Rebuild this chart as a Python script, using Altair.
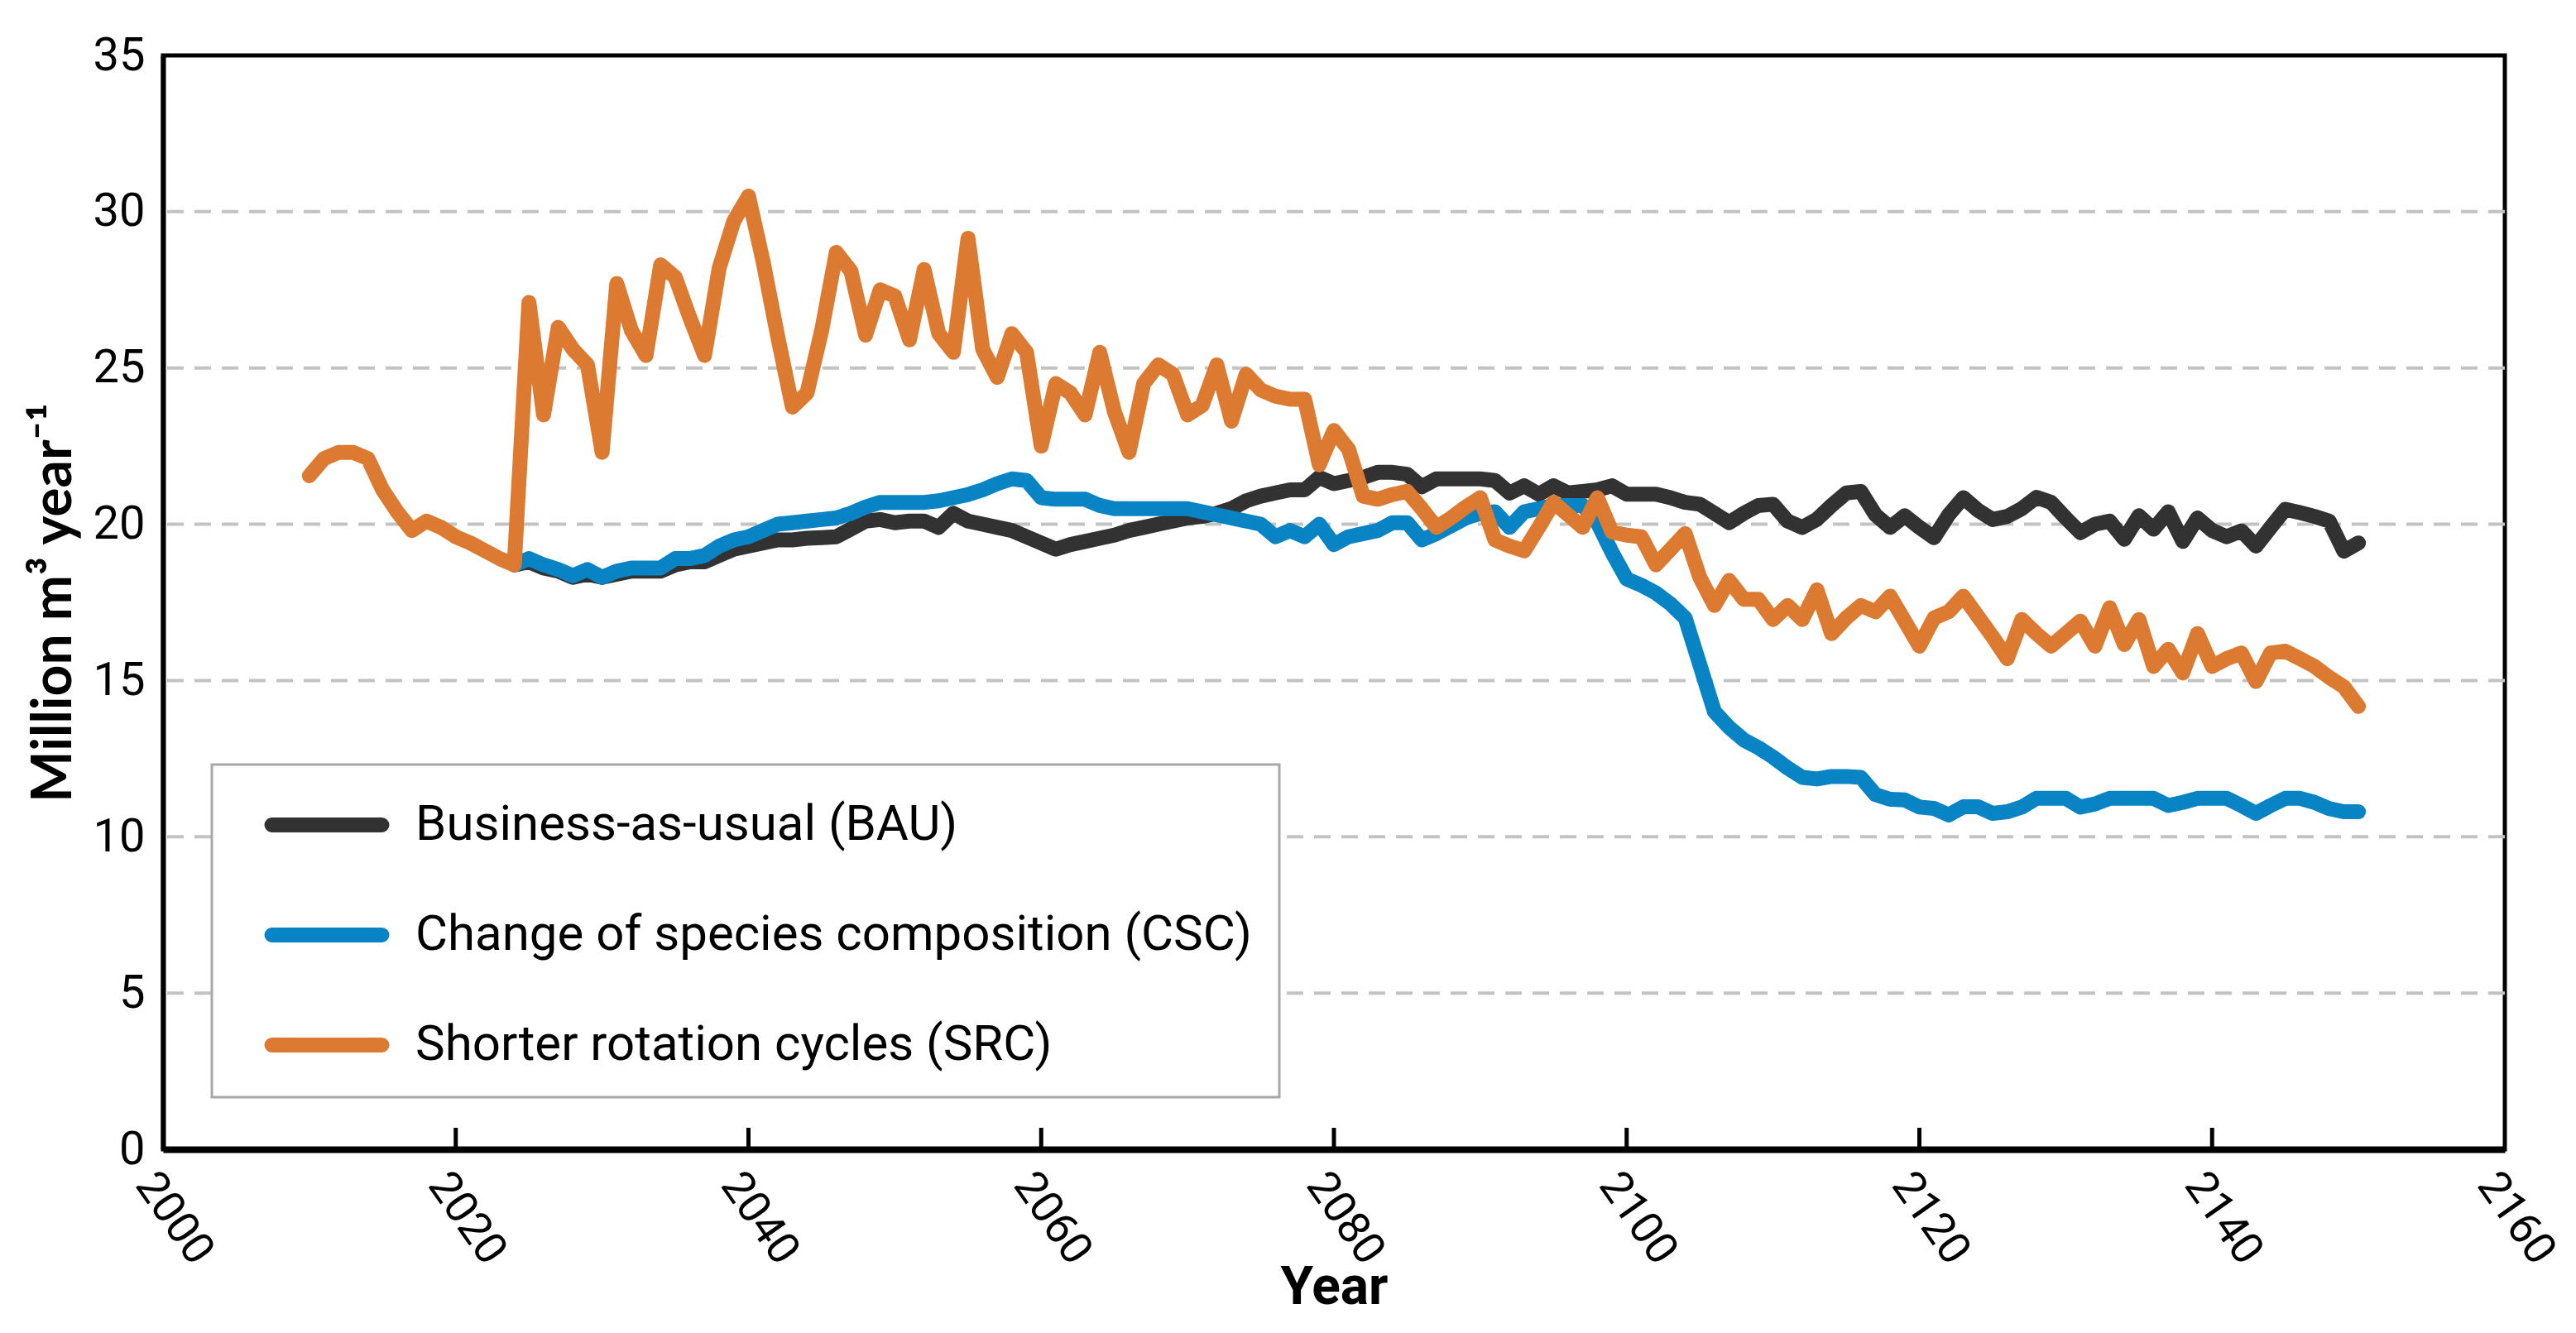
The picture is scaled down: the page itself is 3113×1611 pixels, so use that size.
import altair as alt
import pandas as pd

# ---------------- data ----------------
series_names = [
    "Business-as-usual (BAU)",
    "Change of species composition (CSC)",
    "Shorter rotation cycles (SRC)",
]
series_colors = ["#323232", "#0884C4", "#DB7A30"]

src_years = list(range(2010, 2151))
src_values = [
    21.55, 22.1, 22.3, 22.3, 22.1, 21.1, 20.4, 19.8, 20.1, 19.9,      # 2010-2019
    19.6, 19.4, 19.15, 18.9, 18.7, 27.1, 23.5, 26.3, 25.6, 25.1,      # 2020-2029
    22.3, 27.7, 26.2, 25.4, 28.3, 27.9, 26.6, 25.4, 28.2, 29.7,       # 2030-2039
    30.5, 28.4, 26.0, 23.75, 24.2, 26.2, 28.7, 28.1, 26.05, 27.5,     # 2040-2049
    27.3, 25.9, 28.15, 26.1, 25.5, 29.15, 25.6, 24.7, 26.1, 25.5,     # 2050-2059
    22.5, 24.5, 24.2, 23.5, 25.5, 23.6, 22.3, 24.5, 25.1, 24.8,       # 2060-2069
    23.5, 23.8, 25.1, 23.3, 24.8, 24.3, 24.1, 24.0, 24.0, 21.9,       # 2070-2079
    23.0, 22.4, 20.9, 20.8, 20.95, 21.05, 20.5, 19.9, 20.2, 20.55,    # 2080-2089
    20.85, 19.5, 19.3, 19.15, 19.9, 20.7, 20.3, 19.9, 20.85, 19.75,   # 2090-2099
    19.65, 19.6, 18.7, 19.2, 19.7, 18.3, 17.4, 18.2, 17.6, 17.6,      # 2100-2109
    16.95, 17.4, 16.95, 17.9, 16.5, 17.0, 17.4, 17.2, 17.7, 16.9,     # 2110-2119
    16.1, 17.0, 17.2, 17.7, 17.05, 16.4, 15.7, 16.95, 16.5, 16.1,     # 2120-2129
    16.5, 16.9, 16.1, 17.33, 16.15, 16.95, 15.45, 16.0, 15.24, 16.5,  # 2130-2139
    15.45, 15.7, 15.88, 14.97, 15.88, 15.94, 15.7, 15.45, 15.1, 14.8, # 2140-2149
    14.17,                                                            # 2150
]

bau_years = list(range(2024, 2151))
bau_values = [
    18.7, 18.8, 18.6, 18.5, 18.3, 18.4,                               # 2024-2029
    18.3, 18.4, 18.5, 18.5, 18.5, 18.7, 18.8, 18.8, 19.0, 19.2,       # 2030-2039
    19.3, 19.4, 19.5, 19.5, 19.55, 19.57, 19.6, 19.85, 20.1, 20.15,   # 2040-2049
    20.05, 20.1, 20.1, 19.9, 20.35, 20.1, 20.0, 19.9, 19.8, 19.6,     # 2050-2059
    19.4, 19.2, 19.35, 19.45, 19.55, 19.65, 19.8, 19.9, 20.0, 20.1,   # 2060-2069
    20.2, 20.25, 20.35, 20.5, 20.75, 20.9, 21.0, 21.1, 21.1, 21.5,    # 2070-2079
    21.3, 21.4, 21.5, 21.66, 21.66, 21.6, 21.2, 21.45, 21.45, 21.45,  # 2080-2089
    21.45, 21.4, 21.0, 21.23, 20.96, 21.23, 21.0, 21.05, 21.1, 21.23, # 2090-2099
    20.96, 20.96, 20.96, 20.85, 20.7, 20.64, 20.35, 20.05, 20.35, 20.6, # 2100-2109
    20.64, 20.1, 19.9, 20.16, 20.6, 21.0, 21.05, 20.3, 19.9, 20.27,   # 2110-2119
    19.9, 19.57, 20.3, 20.85, 20.45, 20.15, 20.25, 20.5, 20.86, 20.7, # 2120-2129
    20.2, 19.73, 20.0, 20.1, 19.52, 20.27, 19.84, 20.4, 19.45, 20.2,  # 2130-2139
    19.8, 19.6, 19.79, 19.3, 19.9, 20.48, 20.37, 20.25, 20.1, 19.14,  # 2140-2149
    19.4,                                                             # 2150
]

csc_years = list(range(2024, 2151))
csc_values = [
    18.7, 18.9, 18.7, 18.55, 18.35, 18.55,                            # 2024-2029
    18.3, 18.5, 18.6, 18.6, 18.6, 18.9, 18.9, 19.0, 19.3, 19.5,       # 2030-2039
    19.6, 19.8, 20.0, 20.05, 20.1, 20.15, 20.2, 20.35, 20.55, 20.7,   # 2040-2049
    20.7, 20.7, 20.7, 20.75, 20.85, 20.95, 21.1, 21.3, 21.45, 21.4,   # 2050-2059
    20.85, 20.8, 20.8, 20.8, 20.6, 20.5, 20.5, 20.5, 20.5, 20.5,      # 2060-2069
    20.5, 20.4, 20.3, 20.2, 20.1, 20.0, 19.6, 19.8, 19.6, 20.0,       # 2070-2079
    19.35, 19.6, 19.7, 19.8, 20.05, 20.05, 19.5, 19.7, 19.95, 20.2,   # 2080-2089
    20.35, 20.4, 19.9, 20.4, 20.5, 20.6, 20.6, 20.6, 20.05, 19.1,     # 2090-2099
    18.25, 18.05, 17.8, 17.45, 17.0, 15.5, 14.0, 13.5, 13.1, 12.85,   # 2100-2109
    12.55, 12.2, 11.9, 11.85, 11.93, 11.93, 11.9, 11.35, 11.2, 11.18, # 2110-2119
    10.95, 10.91, 10.7, 10.96, 10.96, 10.75, 10.8, 10.95, 11.23, 11.23, # 2120-2129
    11.23, 10.95, 11.05, 11.23, 11.23, 11.23, 11.23, 11.0, 11.1, 11.23, # 2130-2139
    11.23, 11.23, 11.0, 10.75, 11.0, 11.23, 11.23, 11.1, 10.9, 10.8,  # 2140-2149
    10.8,                                                             # 2150
]

x_tick_values = list(range(2000, 2161, 20))
inner_tick_years = list(range(2020, 2141, 20))
y_tick_values = list(range(0, 36, 5))
grid_values = [5, 10, 15, 20, 25, 30]

# ---------------- tables ----------------
rows = []
for name, yrs, vals in [
    (series_names[0], bau_years, bau_values),
    (series_names[1], csc_years, csc_values),
    (series_names[2], src_years, src_values),
]:
    for yr, v in zip(yrs, vals):
        rows.append({"Year": yr, "Value": v, "Scenario": name})
df = pd.DataFrame(rows)
grid_df = pd.DataFrame({"Value": grid_values})
tick_df = pd.DataFrame({"Year": inner_tick_years})

LABEL_FONT = "Roboto, Liberation Sans, sans-serif"
W, H = 2830, 1322

# rounded (stadium-shaped) legend line symbol
LEGEND_SYMBOL = (
    "M-1.873,-0.1268H1.873A0.1268,0.1268,0,0,1,1.873,0.1268"
    "H-1.873A0.1268,0.1268,0,0,1,-1.873,-0.1268Z"
)

x_scale = alt.Scale(domain=[2000, 2160], nice=False, zero=False)
y_scale = alt.Scale(domain=[0, 35], nice=False)

x_axis = alt.Axis(
    values=x_tick_values, format="d", labelAngle=55, labelAlign="left",
    labelBaseline="top", labelPadding=18, labelFontSize=54, labelFont=LABEL_FONT,
    labelColor="black", labelOverlap=False, labelFlush=False,
    ticks=False, grid=False, domainColor="black", domainWidth=8,
    title="Year", titleFont=LABEL_FONT, titleFontSize=64, titleFontWeight="bold",
    titleColor="black", titleX=W / 2, titleY=186, titleBaseline="alphabetic",
    titleAlign="center", zindex=1,
)
y_axis = alt.Axis(
    values=y_tick_values, labelFontSize=56, labelFont=LABEL_FONT, labelColor="black",
    labelPadding=22, ticks=False, grid=False, domainColor="black", domainWidth=6,
    title="Million m³ year⁻¹", titleFont="Lato, Open Sans, sans-serif",
    titleFontSize=66, titleFontWeight="bold", titleColor="black",
    titleAngle=270, titleX=-112, titleY=H / 2, titleBaseline="alphabetic",
    titleAlign="center", zindex=1,
)

grid = alt.Chart(grid_df).mark_rule(
    color="#c3c3c3", strokeWidth=4, strokeDash=[20, 13]
).encode(y=alt.Y("Value:Q", scale=y_scale, axis=y_axis))

lines = alt.Chart(df).mark_line(
    strokeWidth=18, strokeJoin="round", strokeCap="round"
).encode(
    x=alt.X("Year:Q", scale=x_scale, axis=x_axis),
    y=alt.Y("Value:Q", scale=y_scale, axis=y_axis),
    color=alt.Color(
        "Scenario:N",
        scale=alt.Scale(domain=series_names, range=series_colors),
        legend=alt.Legend(
            orient="none", legendX=59, legendY=857, title=None, direction="vertical",
            padding=33, fillColor="white", strokeColor="#a8a8a8",
            symbolType=LEGEND_SYMBOL, symbolSize=5041, symbolStrokeWidth=9,
            symbolOffset=66, labelOffset=67, labelFontSize=60, labelFont=LABEL_FONT,
            labelColor="black", labelLimit=2000, rowPadding=63,
        ),
    ),
)

ticks = alt.Chart(tick_df).mark_rule(color="black", strokeWidth=5).encode(
    x=alt.X("Year:Q", scale=x_scale, axis=x_axis),
    y=alt.value(H),
    y2=alt.value(H - 26),
)

chart = (
    alt.layer(grid, lines, ticks)
    .properties(
        width=W,
        height=H,
        autosize=alt.AutoSizeParams(type="none"),
        padding={"left": 189, "top": 59, "right": 78, "bottom": 214},
        background="white",
    )
    .configure_view(stroke="black", strokeWidth=5)
    .configure_legend(strokeWidth=3)
)

chart.save("out.html", embed_options={"renderer": "svg", "actions": False})
